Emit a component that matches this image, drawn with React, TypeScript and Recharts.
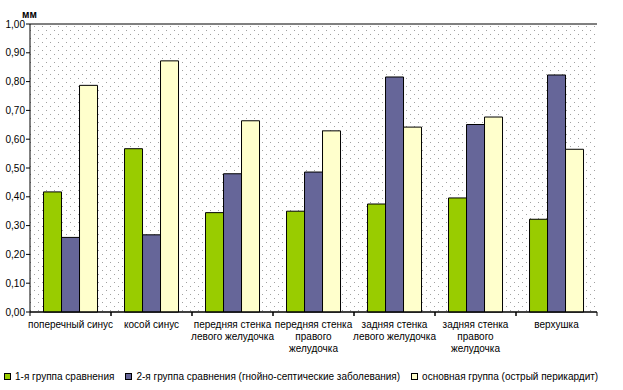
import React from "react";
import {
  Bar,
  BarChart,
  CartesianGrid,
  Legend,
  ReferenceLine,
  XAxis,
  YAxis,
} from "recharts";

const categories = [
  "поперечный синус",
  "косой синус",
  "передняя стенка левого желудочка",
  "передняя стенка правого желудочка",
  "задняя стенка левого желудочка",
  "задняя стенка правого желудочка",
  "верхушка",
];

// how the tick labels are broken into lines in the picture
const tickLabels = [
  ["поперечный синус"],
  ["косой синус"],
  ["передняя стенка", "левого желудочка"],
  ["передняя стенка", "правого", "желудочка"],
  ["задняя стенка", "левого желудочка"],
  ["задняя стенка", "правого", "желудочка"],
  ["верхушка"],
];

const group1 = [0.417, 0.567, 0.345, 0.35, 0.375, 0.396, 0.322];
const group2 = [0.259, 0.268, 0.48, 0.486, 0.816, 0.651, 0.823];
const mainGroup = [0.787, 0.872, 0.664, 0.629, 0.642, 0.677, 0.565];

const seriesNames = [
  "1-я группа сравнения",
  "2-я группа сравнения (гнойно-септические заболевания)",
  "основная группа (острый перикардит)",
];
const colors = ["#99CC00", "#666699", "#FFFFCC"];

const yTicks = [0, 0.1, 0.2, 0.3, 0.4, 0.5, 0.6, 0.7, 0.8, 0.9, 1.0];

const data = categories.map((name, i) => ({
  name,
  g1: group1[i],
  g2: group2[i],
  main: mainGroup[i],
}));

const FONT = "Arial, 'Liberation Sans', sans-serif";

const WIDTH = 623;
const HEIGHT = 390;
const LEFT = 30;
const RIGHT = 26;
const bandWidth = (WIDTH - LEFT - RIGHT) / categories.length;

// eslint-disable-next-line  @typescript-eslint/no-explicit-any
const CategoryTick = (props: any) => {
  const { x, y, index } = props;
  const lines = tickLabels[index] || [];
  return (
    <g>
      <line x1={x - bandWidth / 2} x2={x - bandWidth / 2} y1={y - 8} y2={y - 4} stroke="#000" />
      <line x1={x + bandWidth / 2} x2={x + bandWidth / 2} y1={y - 8} y2={y - 4} stroke="#000" />
      <text
        x={x}
        y={y + 8}
        textAnchor="middle"
        fontSize={10}
        fontFamily={FONT}
        fill="#000"
      >
        {lines.map((l, k) => (
          <tspan key={k} x={x} dy={k === 0 ? 0 : 12}>
            {l}
          </tspan>
        ))}
      </text>
    </g>
  );
};

const LegendBox = () => (
  <div
    style={{
      display: "flex",
      alignItems: "center",
      fontFamily: FONT,
      fontSize: 10,
      color: "#000",
      paddingLeft: 4,
      height: 28,
      whiteSpace: "nowrap",
    }}
  >
    {seriesNames.map((n, i) => (
      <span key={n} style={{ display: "flex", alignItems: "center", marginRight: 11 }}>
        <span
          style={{
            display: "inline-block",
            width: 5,
            height: 5,
            background: colors[i],
            border: "1px solid #000",
            marginRight: 4,
          }}
        />
        {n}
      </span>
    ))}
  </div>
);

const App = () => {
  return (
    <div style={{ position: "absolute", left: 0, top: 0, background: "#fff" }}>
      <svg width={0} height={0} style={{ position: "absolute" }}>
        <defs>
          <pattern id="dots" width={8} height={8} patternUnits="userSpaceOnUse">
            <rect x={2} y={2} width={1} height={1} fill="#a0a0a0" />
            <rect x={6} y={6} width={1} height={1} fill="#a0a0a0" />
          </pattern>
        </defs>
      </svg>
      <div
        style={{
          position: "absolute",
          left: 22,
          top: 9,
          fontFamily: FONT,
          fontSize: 10,
          fontWeight: "bold",
        }}
      >
        мм
      </div>
      <BarChart
        width={WIDTH}
        height={HEIGHT}
        data={data}
        margin={{ top: 24, right: RIGHT, left: 0, bottom: 0 }}
        barGap={0}
        barCategoryGap="16.7%"
      >
        <CartesianGrid vertical={false} stroke="#000" fill="url(#dots)" fillOpacity={1} />
        <XAxis
          dataKey="name"
          height={50}
          interval={0}
          tickLine={false}
          axisLine={{ stroke: "#000" }}
          tick={<CategoryTick />}
        />
        <YAxis
          yAxisId="left"
          width={LEFT}
          domain={[0, 1]}
          ticks={yTicks}
          interval={0}
          tickSize={4}
          tickMargin={1}
          tickLine={{ stroke: "#000" }}
          axisLine={{ stroke: "#000" }}
          tick={{ fontSize: 10, fontFamily: FONT, fill: "#000" }}
          tickFormatter={(v: number) => v.toFixed(2).replace(".", ",")}
        />
        <YAxis
          yAxisId="right"
          orientation="right"
          width={0}
          domain={[0, 1]}
          tick={false}
          tickLine={false}
          axisLine={{ stroke: "#808080" }}
        />
        <ReferenceLine yAxisId="left" y={1} stroke="#808080" />
        <Legend verticalAlign="bottom" height={28} content={<LegendBox />} />
        <Bar yAxisId="left" dataKey="g1" name={seriesNames[0]} fill={colors[0]} stroke="#000" isAnimationActive={false} />
        <Bar yAxisId="left" dataKey="g2" name={seriesNames[1]} fill={colors[1]} stroke="#000" isAnimationActive={false} />
        <Bar yAxisId="left" dataKey="main" name={seriesNames[2]} fill={colors[2]} stroke="#000" isAnimationActive={false} />
      </BarChart>
    </div>
  );
};

export default App;
